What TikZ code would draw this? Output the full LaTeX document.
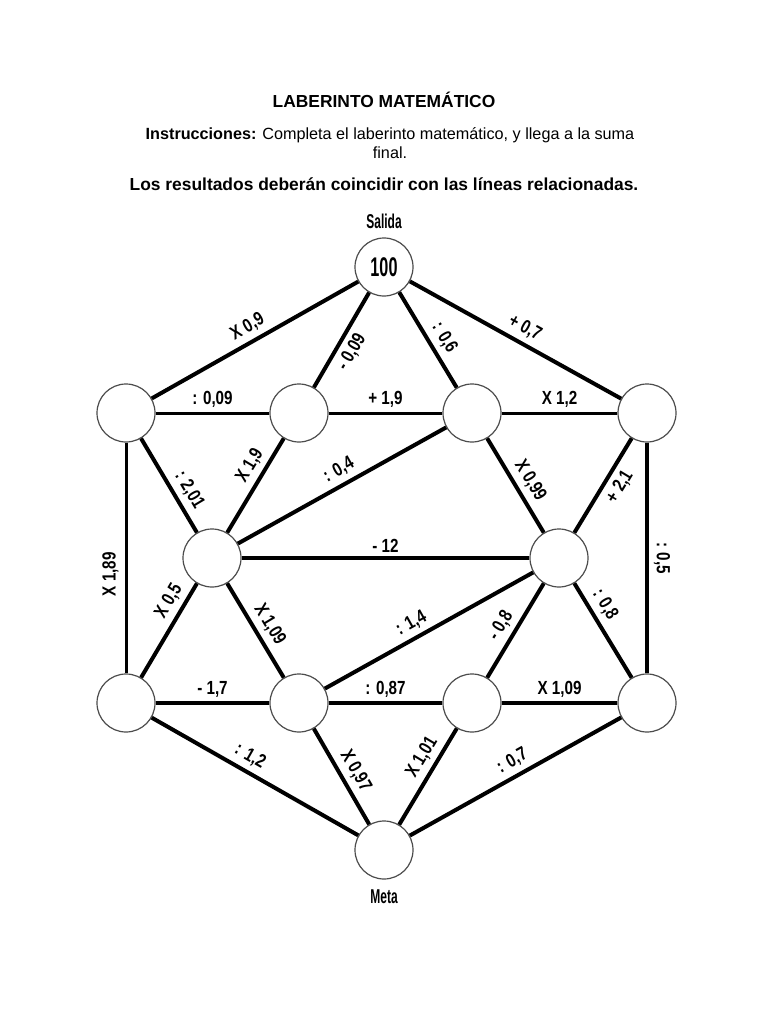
\documentclass[tikz,border=0pt]{standalone}
\usepackage{fontspec}
\setmainfont{Liberation Sans}
\newfontfamily\labfont[FakeStretch=0.8]{Liberation Sans}
\newfontfamily\tagfont[FakeStretch=0.6]{Liberation Sans}
\begin{document}
\begin{tikzpicture}[x=1pt,y=-1pt,
  circ/.style={circle,draw=gray!60!black,line width=1.2pt,minimum size=58pt,inner sep=0pt},
  dedge/.style={line width=4pt,black},
  hedge/.style={line width=3pt,black},
  lab/.style={font=\labfont\bfseries\fontsize{19}{19}\selectfont,inner sep=2pt,sloped},
  tag/.style={font=\tagfont\bfseries\fontsize{20}{20}\selectfont,inner sep=0pt},
  head/.style={font=\fontsize{17.4}{20}\selectfont,inner sep=0pt,align=center}
]
\useasboundingbox (0,0) rectangle (768,1024);

% header
\node[head] (title) at (384,100) {\textbf{LABERINTO MATEMÁTICO}};
\node[head,font=\fontsize{16.2}{19.5}\selectfont] (instr) at (390,143) {\textbf{Instrucciones:} Completa el laberinto matemático, y llega a la suma\\final.};
\node[head] (rule) at (384,184) {\textbf{Los resultados deberán coincidir con las líneas relacionadas.}};

% nodes
\node[circ] (S) at (384,267) {\tagfont\bfseries\fontsize{27}{27}\selectfont 100};
\node[circ] (A1) at (126,413) {};
\node[circ] (A2) at (299,413) {};
\node[circ] (A3) at (472,413) {};
\node[circ] (A4) at (647,413) {};
\node[circ] (B1) at (212,558) {};
\node[circ] (B2) at (559,558) {};
\node[circ] (C1) at (126,703) {};
\node[circ] (C2) at (299,703) {};
\node[circ] (C3) at (472,703) {};
\node[circ] (C4) at (647,703) {};
\node[circ] (M) at (384,850) {};
\node[tag] (salida) at (384,221) {Salida};
\node[tag] (meta) at (384,897) {Meta};

% edges from the start
\draw[dedge] (S) -- node[lab,pos=0.5,above=3pt] {X 0,9} (A1);
\draw[dedge] (A2) -- node[lab,pos=0.45,below=3pt] {- 0,09} (S);
\draw[dedge] (S) -- node[lab,pos=0.56,above=3pt] {: 0,6} (A3);
\draw[dedge] (S) -- node[lab,pos=0.51,above=3pt] {+ 0,7} (A4);
% second row
\draw[hedge] (A1) -- node[lab,pos=0.5,above=2pt] {: 0,09} (A2);
\draw[hedge] (A2) -- node[lab,pos=0.5,above=2pt] {+ 1,9} (A3);
\draw[hedge] (A3) -- node[lab,pos=0.5,above=2pt] {X 1,2} (A4);
% to middle row
\draw[dedge] (A1) -- node[lab,pos=0.63,above=3pt] {: 2,01} (B1);
\draw[dedge] (B1) -- node[lab,pos=0.63,above=3pt] {X 1,9} (A2);
\draw[dedge] (B1) -- node[lab,pos=0.52,above=3pt] {: 0,4} (A3);
\draw[dedge] (A3) -- node[lab,pos=0.53,above=3pt] {X 0,99} (B2);
\draw[dedge] (B2) -- node[lab,pos=0.57,below=3pt] {+ 2,1} (A4);
% verticals
\draw[hedge] (C1) -- node[lab,pos=0.43,above=4pt] {X 1,89} (A1);
\draw[dedge] (A4) -- node[lab,pos=0.5,above=3pt] {: 0,5} (C4);
% middle row
\draw[dedge] (B1) -- node[lab,pos=0.5,above=2pt] {- 12} (B2);
\draw[dedge] (C1) -- node[lab,pos=0.73,above=3pt] {X 0,5} (B1);
\draw[dedge] (B1) -- node[lab,pos=0.52,above=3pt] {X 1,09} (C2);
\draw[dedge] (C2) -- node[lab,pos=0.45,above=3pt] {: 1,4} (B2);
\draw[dedge] (C3) -- node[lab,pos=0.47,above=3pt] {- 0,8} (B2);
\draw[dedge] (B2) -- node[lab,pos=0.31,above=3pt] {: 0,8} (C4);
% bottom row
\draw[dedge] (C1) -- node[lab,pos=0.5,above=2pt] {- 1,7} (C2);
\draw[dedge] (C2) -- node[lab,pos=0.5,above=2pt] {: 0,87} (C3);
\draw[dedge] (C3) -- node[lab,pos=0.5,above=2pt] {X 1,09} (C4);
% to the goal
\draw[dedge] (C1) -- node[lab,pos=0.44,above=3pt] {: 1,2} (M);
\draw[dedge] (C2) -- node[lab,pos=0.52,above=3pt] {X 0,97} (M);
\draw[dedge] (M) -- node[lab,pos=0.62,above=3pt] {X 1,01} (C3);
\draw[dedge] (M) -- node[lab,pos=0.52,above=3pt] {: 0,7} (C4);
\end{tikzpicture}
\end{document}
